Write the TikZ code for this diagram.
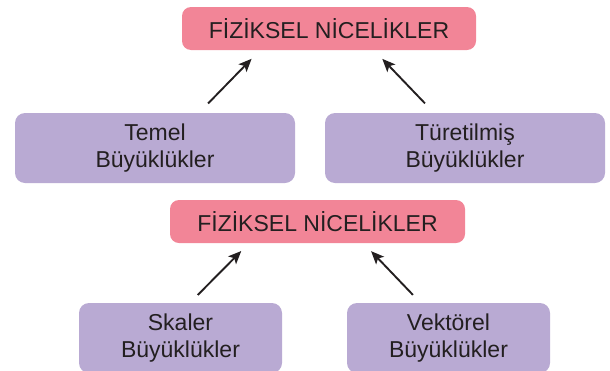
\documentclass[tikz,border=0pt]{standalone}
\usepackage{fontspec}
\setmainfont{Liberation Sans}
\usetikzlibrary{arrows.meta}
\definecolor{kutupembe}{HTML}{F28597}
\definecolor{kutumor}{HTML}{B9AAD3}
\definecolor{yazi}{HTML}{231F20}
\tikzset{
  ustkutu/.style={rectangle, rounded corners=9pt, fill=kutupembe, text=yazi, minimum height=43pt, inner sep=0pt, font=\fontsize{23}{27}\selectfont},
  altkutu/.style={rectangle, rounded corners=10pt, fill=kutumor, text=yazi, minimum height=70pt, align=center, inner sep=0pt, font=\fontsize{23}{27}\selectfont},
  ok/.style={-{Stealth[length=13pt,width=11pt,inset=3pt]}, line width=1.9pt, yazi, shorten <=13pt, shorten >=12pt}
}
\begin{document}
\begin{tikzpicture}[x=1pt,y=-1pt]
\clip (0,0) rectangle (610,370);
\node[ustkutu, minimum width=294pt] (fiz1) at (329,28.5){FİZİKSEL NİCELİKLER};
\node[altkutu, minimum width=280pt] (temel) at (155,148){Temel\\Büyüklükler};
\node[altkutu, minimum width=280pt] (turetilmis) at (465,148){Türetilmiş\\Büyüklükler};
\draw[ok] ([xshift=44pt]temel.north) -- ([xshift=-69pt]fiz1.south);
\draw[ok] ([xshift=-31pt]turetilmis.north) -- ([xshift=45pt]fiz1.south);
\node[ustkutu, minimum width=295pt] (fiz2) at (317.5,221.5){FİZİKSEL NİCELİKLER};
\node[altkutu, minimum width=203pt] (skaler) at (180.5,338){Skaler\\Büyüklükler};
\node[altkutu, minimum width=203pt] (vektorel) at (448.5,338){Vektörel\\Büyüklükler};
\draw[ok, shorten <=11pt, shorten >=11pt] ([xshift=9.5pt]skaler.north) -- ([xshift=-68.5pt]fiz2.south);
\draw[ok, shorten <=11pt, shorten >=11pt] ([xshift=-28pt]vektorel.north) -- ([xshift=46pt]fiz2.south);
\end{tikzpicture}
\end{document}
